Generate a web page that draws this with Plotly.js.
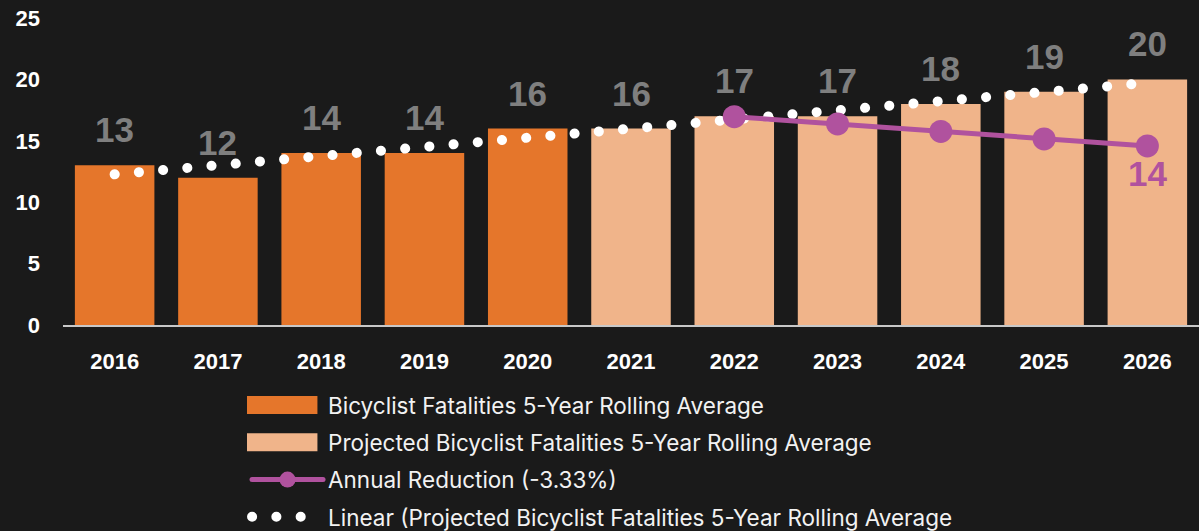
<!DOCTYPE html>
<html>
<head>
<meta charset="utf-8">
<script src="https://cdn.plot.ly/plotly-3.0.1.min.js"></script>
<style>
  html, body { margin: 0; padding: 0; background: #1a1a1a; }
  #chart { width: 1199px; height: 531px; }
  .js-line { stroke-linecap: round; }
  /* wide bar swatches in the legend */
  g.legendpoints path:not(.scatterpts) { transform: translate(35px, 0px) scale(5.9, 1.5) !important; }
</style>
</head>
<body>
<div id="chart"></div>
<script>
// 5-year rolling averages, actual and projected
var actualYears = [2016, 2017, 2018, 2019, 2020];
var actualValues = [13, 12, 14, 14, 16];

var projYears = [2021, 2022, 2023, 2024, 2025, 2026];
var projValues = [16, 17, 17, 18, 19, 20];

// annual reduction target line (-3.33%)
var reductionYears = [2022, 2023, 2024, 2025, 2026];
var reductionValues = [16.96, 16.37, 15.76, 15.15, 14.58];
var reductionLabel = "14";

// linear trendline end points
var trendYears = [2016, 2026];
var trendValues = [12.27, 19.72];

var allYears = actualYears.concat(projYears);
var allValues = actualValues.concat(projValues);

var orange = "#E5762B";
var peach = "#F0B48A";
var purple = "#B0529E";
var boldFont = "Liberation Sans, Arial, sans-serif";

var trace1 = {
  x: actualYears,
  y: actualValues,
  type: "bar",
  width: 0.77,
  name: "Bicyclist Fatalities 5-Year Rolling Average",
  marker: {color: orange},
  legendrank: 1,
  legendgroup: "a",
  hoverinfo: "skip"
};

var trace2 = {
  x: projYears,
  y: projValues,
  type: "bar",
  width: 0.77,
  name: "Projected Bicyclist Fatalities 5-Year Rolling Average",
  marker: {color: peach},
  legendrank: 2,
  legendgroup: "b",
  hoverinfo: "skip"
};

var trace3 = {
  x: trendYears,
  y: trendValues,
  mode: "lines",
  type: "scatter",
  name: "Linear (Projected Bicyclist Fatalities 5-Year Rolling Average",
  line: {color: "#ffffff", width: 10, dash: "0.1px,24.2px"},
  legendrank: 4,
  legendgroup: "d",
  hoverinfo: "skip"
};

var trace4 = {
  x: reductionYears,
  y: reductionValues,
  mode: "lines+markers",
  type: "scatter",
  name: "Annual Reduction (-3.33%)",
  line: {color: purple, width: 5},
  marker: {color: purple, size: 23},
  legendrank: 3,
  legendgroup: "c",
  hoverinfo: "skip"
};

var data = [trace1, trace2, trace3, trace4];

// value labels above the bars
var annotations = allYears.map(function (yr, i) {
  return {
    x: yr, y: allValues[i], xref: "x", yref: "y",
    text: String(Math.round(allValues[i])),
    showarrow: false, yanchor: "bottom", yshift: 14,
    font: {family: boldFont, size: 35, color: "#7f7f7f", weight: 700}
  };
});
annotations.push({
  x: reductionYears[reductionYears.length - 1],
  y: reductionValues[reductionValues.length - 1],
  xref: "x", yref: "y",
  text: reductionLabel,
  showarrow: false, yanchor: "top", yshift: -6,
  font: {family: boldFont, size: 35, color: purple, weight: 700}
});

var layout = {
  width: 1199,
  height: 531,
  paper_bgcolor: "#1a1a1a",
  plot_bgcolor: "#1a1a1a",
  margin: {l: 63, r: 0, t: 18, b: 206, autoexpand: false},
  barmode: "overlay",
  showlegend: true,
  legend: {
    orientation: "v",
    x: 0.162, xanchor: "left",
    y: -0.192, yanchor: "top",
    traceorder: "grouped",
    tracegroupgap: 5,
    itemwidth: 71,
    font: {family: "Inter", size: 22.5, color: "#f2f2f2"},
    bgcolor: "rgba(0,0,0,0)"
  },
  xaxis: {
    range: [2015.5, 2026.5],
    tickvals: allYears,
    tickformat: "d",
    showline: true,
    linecolor: "#c8c8c8",
    linewidth: 2,
    showgrid: false,
    zeroline: false,
    ticks: "",
    ticklabelstandoff: 16,
    tickfont: {family: boldFont, size: 22, color: "#ffffff", weight: 700}
  },
  yaxis: {
    range: [0, 25],
    dtick: 5,
    showgrid: false,
    zeroline: false,
    showline: false,
    ticks: "",
    ticklabelstandoff: 22,
    tickfont: {family: boldFont, size: 22, color: "#ffffff", weight: 700}
  },
  annotations: annotations
};

Plotly.newPlot("chart", data, layout, {displayModeBar: false, staticPlot: true});
</script>
</body>
</html>
